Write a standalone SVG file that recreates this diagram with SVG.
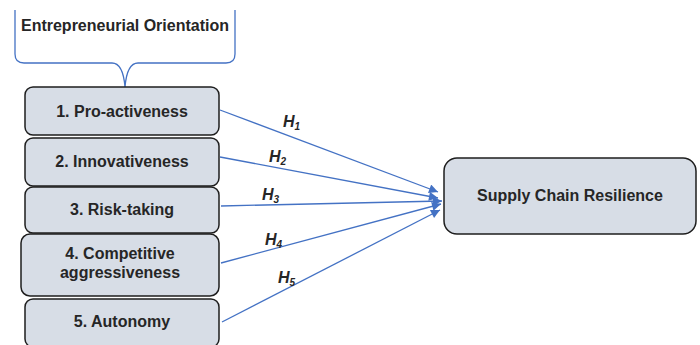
<svg xmlns="http://www.w3.org/2000/svg" width="700" height="345" viewBox="0 0 700 345">
<style>
.box{fill:#d7dde6;stroke:#1e1e1e;stroke-width:1.5}
.lbl{font-family:"Liberation Sans",Arial,sans-serif;font-weight:bold;font-size:16px;fill:#262626;text-anchor:middle}
.h{font-family:"Liberation Sans",Arial,sans-serif;font-weight:bold;font-style:italic;font-size:16px;fill:#262626}
.sub{font-size:10px}
.con{stroke:#4472c4;stroke-width:1.3;fill:none;marker-end:url(#ah)}
</style>
<defs>
<marker id="ah" viewBox="0 0 10 10" refX="10" refY="5" markerWidth="13" markerHeight="9" markerUnits="userSpaceOnUse" orient="auto">
<path d="M0,0 L10,5 L0,10 Z" fill="#4472c4"/>
</marker>
</defs>
<rect width="700" height="345" fill="#ffffff"/>
<g id="eo-brace">
<path d="M15,10 L15,54 Q15,63 24,63 L112,63 Q123,63 125,87 Q127,63 138,63 L226,63 Q235,63 235,54 L235,10" fill="none" stroke="#4472c4" stroke-width="1.3"/>
<text class="lbl" x="125" y="31" font-size="16.5">Entrepreneurial Orientation</text>
</g>
<g id="n1"><rect class="box" x="25" y="87" width="194" height="48" rx="8"/><text class="lbl" x="122" y="117">1. Pro-activeness</text></g>
<g id="n2"><rect class="box" x="25" y="138" width="194" height="48" rx="8"/><text class="lbl" x="122" y="167">2. Innovativeness</text></g>
<g id="n3"><rect class="box" x="25" y="187" width="194" height="46" rx="8"/><text class="lbl" x="122" y="215">3. Risk-taking</text></g>
<g id="n4"><rect class="box" x="21" y="234" width="198" height="62" rx="9"/><text class="lbl" x="120" y="259">4. Competitive</text><text class="lbl" x="120" y="278">aggressiveness</text></g>
<g id="n5"><rect class="box" x="25" y="299" width="194" height="48" rx="8"/><text class="lbl" x="122" y="327">5. Autonomy</text></g>
<g id="scr"><rect class="box" x="444" y="158" width="252" height="76" rx="13"/><text class="lbl" x="570" y="201">Supply Chain Resilience</text></g>
<g id="connectors">
<line class="con" x1="220" y1="110" x2="438" y2="192"/>
<line class="con" x1="220" y1="157" x2="438" y2="198"/>
<line class="con" x1="221" y1="206" x2="442" y2="201"/>
<line class="con" x1="221" y1="263" x2="441" y2="204"/>
<line class="con" x1="222" y1="322" x2="440" y2="210"/>
<text class="h" x="283" y="127">H<tspan class="sub" dy="3">1</tspan></text>
<text class="h" x="269" y="162">H<tspan class="sub" dy="3">2</tspan></text>
<text class="h" x="262" y="200">H<tspan class="sub" dy="3">3</tspan></text>
<text class="h" x="265" y="245">H<tspan class="sub" dy="3">4</tspan></text>
<text class="h" x="278" y="283">H<tspan class="sub" dy="3">5</tspan></text>
</g>
</svg>
